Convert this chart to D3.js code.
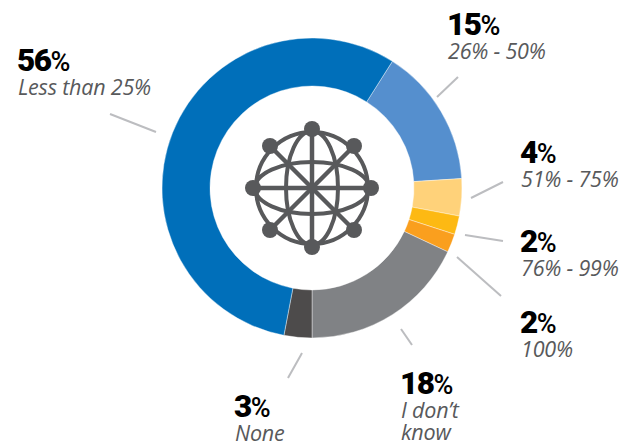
<!DOCTYPE html>
<html>
<head>
	<meta charset="utf-8">
	<script src="https://cdnjs.cloudflare.com/ajax/libs/d3/7.8.5/d3.min.js" charset="utf-8"></script>
	<style>
		html, body { margin: 0; padding: 0; background: #fff; }
		svg { display: block; }
		text { font-family: 'Open Sans', sans-serif; }
		.pct { font-family: Roboto, sans-serif; font-weight: 900; font-size: 31.5px; letter-spacing: -1.5px; fill: #000; }
		.pct .sign { font-size: 27px; font-weight: 500; letter-spacing: 0; }
		.name { font-style: italic; font-size: 21.5px; letter-spacing: -0.2px; fill: #58595b; }
		.leader { stroke: #bcbdc0; stroke-width: 2; fill: none; }
		.icon { stroke: #58595b; fill: none; }
	</style>
</head>
<body>
<div id="chart"></div>
<script>

//Data, clockwise from the top right
var categories = ["26% - 50%", "51% - 75%", "76% - 99%", "100%", "I don't know", "None", "Less than 25%"];
var values = [15, 4, 2, 2, 18, 3, 56];
var colors = ["#558fce", "#ffd27a", "#fdb913", "#fa9f1e", "#808285", "#4d4b4b", "#006fba"];

//Label placement for each category: text position, then leader line ends
var labelX = [447, 520, 520, 520, 400, 234, 17];
var labelY = [35, 163, 252, 333, 394, 417, 71];
var lineEnds = [
	[437, 97, 458, 77],
	[471, 198, 503, 182],
	[465, 235, 503, 241],
	[457, 257, 501, 296],
	[401, 329, 412, 345],
	[302, 353, 288, 378],
	[110, 114, 156, 132]
];

var width = 630, height = 443,
    cx = 312, cy = 188,
    outerRadius = 150, innerRadius = 102;

var svg = d3.select("#chart").append("svg")
	.attr("width", width)
	.attr("height", height);

///////////////// The donut /////////////////

var pie = d3.pie()
	.sort(null)
	.startAngle(32.4 * Math.PI / 180)
	.endAngle(392.4 * Math.PI / 180);

var arc = d3.arc().innerRadius(innerRadius).outerRadius(outerRadius);

svg.append("g")
	.attr("transform", "translate(" + cx + "," + cy + ")")
	.selectAll("path")
	.data(pie(values))
	.enter().append("path")
	.attr("d", arc)
	.attr("fill", function(d, i) { return colors[i]; })
	.attr("stroke", "#fff")
	.attr("stroke-width", 0.4);

///////////////// Leader lines /////////////////

svg.selectAll(".leader")
	.data(lineEnds)
	.enter().append("line")
	.attr("class", "leader")
	.attr("x1", function(d) { return d[0]; })
	.attr("y1", function(d) { return d[1]; })
	.attr("x2", function(d) { return d[2]; })
	.attr("y2", function(d) { return d[3]; });

///////////////// Labels /////////////////

var labels = svg.selectAll(".label")
	.data(values)
	.enter().append("g")
	.attr("class", "label")
	.attr("transform", function(d, i) { return "translate(" + labelX[i] + "," + labelY[i] + ")"; });

var pct = labels.append("text").attr("class", "pct");
pct.append("tspan").text(function(d) { return d; });
pct.append("tspan").attr("class", "sign").text("%");

labels.each(function(d, i) {
	var lines = categories[i] === "I don't know" ? ["I don’t", "know"] : [categories[i]];
	d3.select(this).selectAll(".name")
		.data(lines)
		.enter().append("text")
		.attr("class", "name")
		.attr("x", 1)
		.attr("y", function(l, j) { return 24 + j * 22; })
		.text(function(l) { return l; });
});

///////////////// Globe icon /////////////////

var globeRadius = 56, globeInner = 26, spoke = 59, diag = 42;

var icon = svg.append("g")
	.attr("class", "icon")
	.attr("transform", "translate(" + cx + "," + cy + ")");

icon.append("circle").attr("r", globeRadius).attr("stroke-width", 4);
icon.append("ellipse").attr("rx", globeInner).attr("ry", globeRadius + 1).attr("stroke-width", 4);
icon.append("ellipse").attr("rx", globeRadius + 1).attr("ry", globeInner).attr("stroke-width", 4);

var nodes = [[spoke, 0], [0, spoke], [diag, diag], [diag, -diag]];

icon.selectAll(".spoke")
	.data(nodes)
	.enter().append("line")
	.attr("class", "spoke")
	.attr("x1", function(d) { return -d[0]; })
	.attr("y1", function(d) { return -d[1]; })
	.attr("x2", function(d) { return d[0]; })
	.attr("y2", function(d) { return d[1]; })
	.attr("stroke-width", 4.5);

icon.selectAll(".node")
	.data(nodes.concat(nodes.map(function(d) { return [-d[0], -d[1]]; })))
	.enter().append("circle")
	.attr("class", "node")
	.attr("cx", function(d) { return d[0]; })
	.attr("cy", function(d) { return d[1]; })
	.attr("r", 8)
	.attr("fill", "#58595b")
	.attr("stroke", "none");

</script>
</body>
</html>
